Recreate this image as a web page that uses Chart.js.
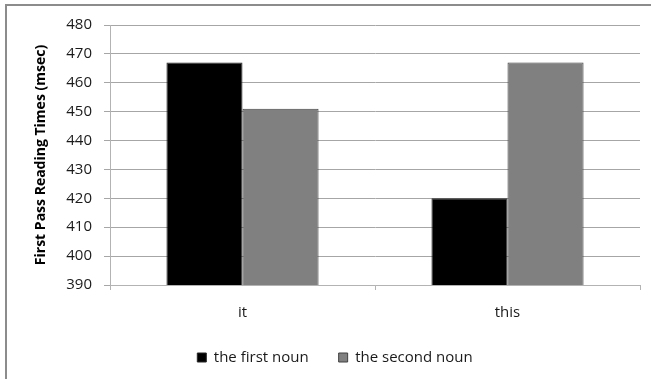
<!DOCTYPE html>
<html>
<head>
<meta charset="utf-8">
<script src="https://cdn.jsdelivr.net/npm/chart.js@4/dist/chart.umd.min.js"></script>
<style>
  html, body { margin: 0; padding: 0; background: #fff; overflow: hidden; }
  #wrap { position: relative; width: 651px; height: 379px; }
  #frame { position: absolute; left: 5px; top: 4px; width: 700px; height: 420px;
           border-left: 2px solid #8c8c8c; border-top: 2px solid #8c8c8c; box-sizing: border-box; }
  canvas { position: absolute; left: 0; top: 0; }
</style>
</head>
<body>
<div id="wrap">
  <canvas id="c" width="651" height="379"></canvas>
  <div id="frame"></div>
</div>
<script>
// Reading-time data per pronoun condition
const categories = ['it', 'this'];
const firstNoun = [467, 420];
const secondNoun = [451, 467];
const seriesNames = ['the first noun', 'the second noun'];
const yMin = 390, yMax = 480, yStep = 10;

const FONT = '"Open Sans", "Liberation Sans", sans-serif';

new Chart(document.getElementById('c'), {
  type: 'bar',
  data: {
    labels: categories,
    datasets: [
      { label: seriesNames[0], data: firstNoun, backgroundColor: '#000000',
        borderColor: '#262626', borderWidth: 1 },
      { label: seriesNames[1], data: secondNoun, backgroundColor: '#808080',
        borderColor: '#404040', borderWidth: 1 }
    ]
  },
  options: {
    responsive: false,
    animation: false,
    layout: { padding: { left: 30, right: 11, top: 25, bottom: 4 } },
    datasets: { bar: { categoryPercentage: 0.574, barPercentage: 1.0 } },
    plugins: {
      tooltip: { enabled: false },
      legend: {
        position: 'bottom',
        labels: {
          color: '#1a1a1a',
          font: { family: FONT, size: 15 },
          boxWidth: 9, boxHeight: 9, padding: 30
        }
      }
    },
    scales: {
      x: {
        afterFit: s => { s.height = 35; },
        grid: { drawOnChartArea: false, drawTicks: true, tickLength: 5, color: '#b3b3b3' },
        border: { color: '#b3b3b3', width: 1 },
        ticks: { color: '#1a1a1a', font: { family: FONT, size: 15 }, padding: 14 }
      },
      y: {
        min: yMin, max: yMax,
        afterFit: s => { s.width = 80; },
        grid: { color: '#a6a6a6', tickLength: 6 },
        border: { color: '#b3b3b3', width: 1 },
        ticks: { stepSize: yStep, color: '#1a1a1a', font: { family: FONT, size: 15 }, padding: 12 },
        title: {
          display: true, text: 'First Pass Reading Times (msec)',
          color: '#000', font: { family: FONT, size: 14, weight: 'bold' }, padding: { top: 3, bottom: 4 }
        }
      }
    }
  }
});
</script>
</body>
</html>
